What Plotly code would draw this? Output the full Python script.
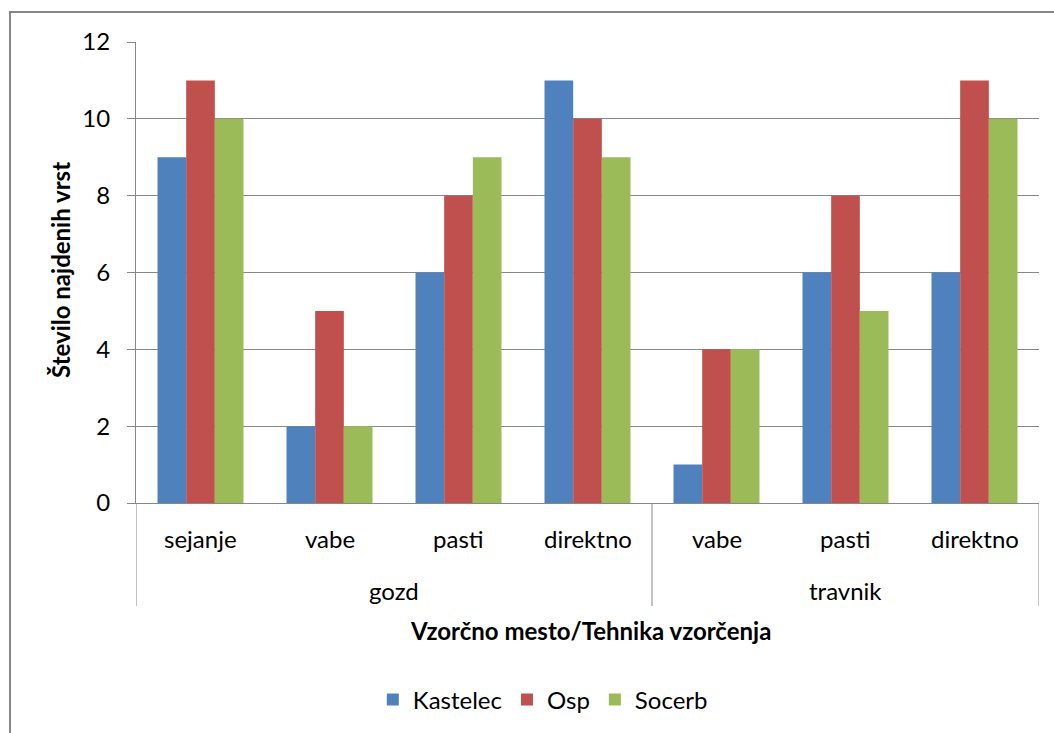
import plotly.graph_objects as go

# Sampling site / sampling technique
sites = ["gozd", "gozd", "gozd", "gozd", "travnik", "travnik", "travnik"]
techniques = ["sejanje", "vabe", "pasti", "direktno", "vabe", "pasti", "direktno"]

# Number of species found per locality
kastelec = [9, 2, 6, 11, 1, 6, 6]
osp = [11, 5, 8, 10, 4, 8, 11]
socerb = [10, 2, 9, 9, 4, 5, 10]

series = [
    ("Kastelec", kastelec, "#4F81BD"),
    ("Osp", osp, "#C0504D"),
    ("Socerb", socerb, "#9BBB59"),
]

FONT = "Lato"
FS = 24
GRID = "#878787"

keys = [f"{s}|{t}" for s, t in zip(sites, techniques)]

fig = go.Figure()
for name, vals, color in series:
    fig.add_trace(go.Bar(
        x=keys, y=vals, name=name,
        marker=dict(color=color, line=dict(width=0)),
    ))

L, R, T, B = 136, 15, 42, 230
W, H = 1054, 733
pw, ph = W - L - R, H - T - B


def py(pix):
    """Pixel row -> paper y."""
    return (T + ph - pix) / ph


def px(pix):
    """Pixel column -> paper x."""
    return (pix - L) / pw


fig.update_layout(
    width=W, height=H,
    margin=dict(l=L, r=R, t=T, b=B),
    paper_bgcolor="white", plot_bgcolor="white",
    barmode="group", bargap=1.5 / 4.5, bargroupgap=0,
    font=dict(family=FONT, size=FS, color="black"),
    showlegend=True,
    legend=dict(orientation="h", x=0.515, xanchor="center", xref="container",
                y=(H - 700) / H, yanchor="middle", yref="container",
                font=dict(size=FS), itemwidth=30, traceorder="normal"),
    xaxis=dict(
        type="category", categoryorder="array", categoryarray=keys,
        range=[-0.5, len(keys) - 0.5],
        showline=True, linecolor=GRID, linewidth=1,
        ticks="", showgrid=False, showticklabels=False,
    ),
    yaxis=dict(
        range=[0, 12], dtick=2, showline=True, linecolor=GRID, linewidth=1,
        ticks="outside", ticklen=8, tickcolor=GRID, showgrid=True,
        gridcolor=GRID, gridwidth=1, zeroline=False, tickfont=dict(size=FS),
        ticklabelstandoff=12,
    ),
)

# technique labels (first level of the category axis)
for i, t in enumerate(techniques):
    fig.add_annotation(text=t, x=i, xref="x", y=py(538), yref="paper",
                       xanchor="center", yanchor="middle",
                       showarrow=False, font=dict(size=FS))

# site labels and dividers (second level)
groups = []
for i, s in enumerate(sites):
    if not groups or groups[-1][0] != s:
        groups.append([s, i, i])
    else:
        groups[-1][2] = i
for s, a, b in groups:
    fig.add_annotation(text=s, x=(a + b) / 2, xref="x", y=py(590),
                       yref="paper", xanchor="center", yanchor="middle",
                       showarrow=False, font=dict(size=FS))
edges = [g[1] - 0.5 for g in groups] + [groups[-1][2] + 0.5]
for e in edges:
    fig.add_shape(type="line", xref="x", yref="paper", x0=e, x1=e,
                  y0=0, y1=py(606), line=dict(color=GRID, width=1))

# axis titles
fig.add_annotation(text="<b>Število najdenih vrst</b>", textangle=-90,
                   xref="paper", yref="paper", x=px(60), y=py(270),
                   xanchor="center", yanchor="middle",
                   showarrow=False, font=dict(size=FS))
fig.add_annotation(text="<b>Vzorčno mesto/Tehnika vzorčenja</b>",
                   xref="paper", yref="paper", x=px(590), y=py(630),
                   xanchor="center", yanchor="middle",
                   showarrow=False, font=dict(size=FS))

# chart area border
fig.add_shape(type="rect", xref="paper", yref="paper",
              x0=px(10), x1=px(W + 5), y0=py(H + 5), y1=py(12),
              line=dict(color=GRID, width=2), fillcolor="rgba(0,0,0,0)",
              layer="below")

fig.write_html("out.html")
